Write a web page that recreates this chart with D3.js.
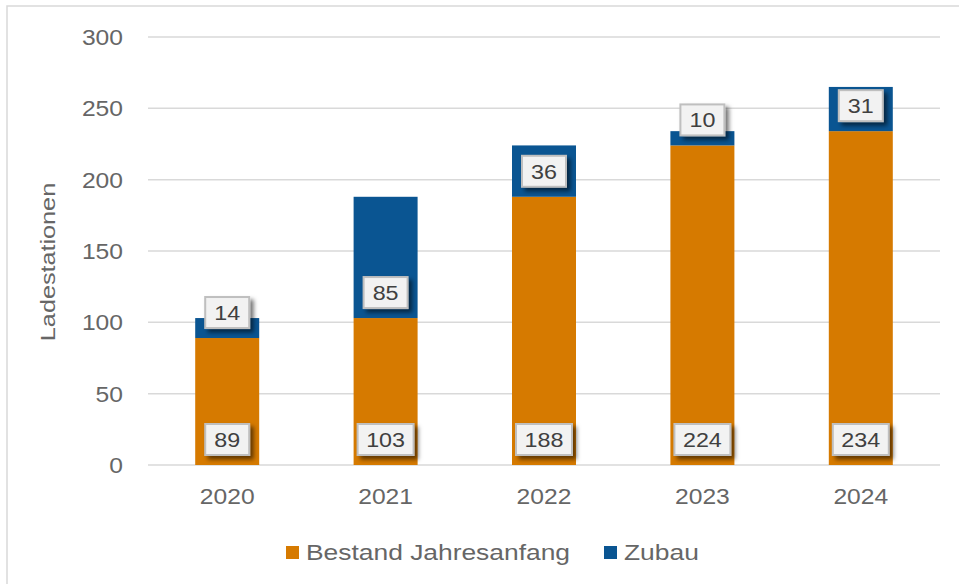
<!DOCTYPE html>
<html><head><meta charset="utf-8">
<script src="https://cdn.jsdelivr.net/npm/d3@7"></script>
<style>html,body{margin:0;padding:0;background:#fff;}svg{display:block;font-family:"Liberation Sans",Arial,sans-serif;}</style>
</head><body>
<svg id="c" width="959" height="584"></svg>
<script>
const years = ["2020","2021","2022","2023","2024"];
const bestand = [89,103,188,224,234];
const zubau = [14,85,36,10,31];
const yTicks = [0,50,100,150,200,250,300];
const seriesNames = ["Bestand Jahresanfang","Zubau"];
const colors = ["#D67A00","#0A5592"];
const yTitle = "Ladestationen";

const svg = d3.select("#c");
const defs = svg.append("defs");
const f = defs.append("filter").attr("id","sh").attr("x","-30%").attr("y","-30%").attr("width","170%").attr("height","170%");
f.append("feDropShadow").attr("dx",3.5).attr("dy",3.5).attr("stdDeviation",2.2).attr("flood-color","#000").attr("flood-opacity",0.55);

// outer frame
svg.append("rect").attr("x",7).attr("y",6).attr("width",1000).attr("height",700)
  .attr("fill","none").attr("stroke","#d9d9d9").attr("stroke-width",1.5);

const L = 148, R = 940, T = 37, B = 465;
const x = d3.scaleBand().domain(years).range([L,R]).paddingInner(0.596).paddingOuter(0.298);
const y = d3.scaleLinear().domain([0,300]).range([B,T]);

function htext(g, tx, ty, s, sx, anchor){
  return g.append("text").attr("transform",`translate(${tx},${ty}) scale(${sx},1)`)
    .attr("text-anchor",anchor).text(s);
}

// gridlines
const grid = svg.append("g");
grid.selectAll("line").data(yTicks).join("line")
  .attr("x1",L).attr("x2",R).attr("y1",d=>y(d)).attr("y2",d=>y(d))
  .attr("stroke","#d9d9d9").attr("stroke-width",1.5);

// y tick labels
const yl = svg.append("g").attr("fill","#666").attr("font-size",22);
yTicks.forEach(t=>htext(yl,123,y(t)+8,String(t),1.12,"end"));

// x tick labels
const xl = svg.append("g").attr("fill","#666").attr("font-size",22);
years.forEach(yr=>htext(xl,x(yr)+x.bandwidth()/2,504,yr,1.12,"middle"));

// y title
svg.append("text").attr("transform",`translate(55,262) rotate(-90) scale(1.2,1)`)
  .attr("text-anchor","middle").attr("fill","#666").attr("font-size",21).text(yTitle);

// stacked bars
const data = years.map((yr,i)=>({year:yr, Bestand:bestand[i], Zubau:zubau[i]}));
const stack = d3.stack().keys(["Bestand","Zubau"])(data);
const bars = svg.append("g");
stack.forEach((layer,li)=>{
  bars.append("g").attr("fill",colors[li]).selectAll("rect").data(layer).join("rect")
    .attr("x",d=>x(d.data.year)).attr("width",x.bandwidth())
    .attr("y",d=>y(d[1])).attr("height",d=>y(d[0])-y(d[1]));
});

// data labels (inside base)
const lab = svg.append("g").attr("font-size",21);
stack.forEach((layer,li)=>{
  layer.forEach(d=>{
    const v = d[1]-d[0];
    const cx = x(d.data.year)+x.bandwidth()/2;
    const bottom = y(d[0]) - 10;
    const h = 31;
    const s = String(v);
    const w = s.length===3 ? 56 : 44;
    lab.append("rect").attr("x",cx-w/2).attr("y",bottom-h).attr("width",w).attr("height",h)
      .attr("fill","#f2f2f2").attr("stroke","#bfbfbf").attr("stroke-width",2).attr("filter","url(#sh)");
    htext(lab,cx,bottom-h/2+7.5,s,1.11,"middle").attr("fill","#404040");
  });
});

// legend
const lg = svg.append("g").attr("font-size",22).attr("fill","#666");
let lx = 286;
seriesNames.forEach((n,i)=>{
  lg.append("rect").attr("x",lx).attr("y",546).attr("width",13).attr("height",13).attr("fill",colors[i]);
  const t = htext(lg,lx+20,560,n,1.2,"start");
  const w = t.node().getComputedTextLength()*1.2;
  lx = lx + 20 + w + 34;
});
</script>
</body></html>
